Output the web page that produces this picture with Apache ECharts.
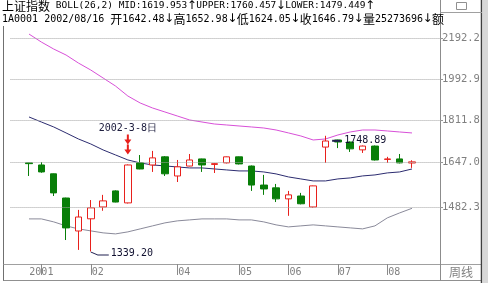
<!DOCTYPE html>
<html><head><meta charset="utf-8">
<script src="https://cdn.jsdelivr.net/npm/echarts@6/dist/echarts.min.js"></script>
<style>html,body{margin:0;padding:0;background:#fff}#c{width:488px;height:283px}</style>
</head><body><div id="c"></div>
<script>
// ---- data (weekly candles, 上证指数) ----
const weeks = ['2002-01-04','2002-01-11','2002-01-18','2002-01-25','2002-02-01','2002-02-08','2002-02-22','2002-03-01',
  '2002-03-08','2002-03-15','2002-03-22','2002-03-29','2002-04-05','2002-04-12','2002-04-19','2002-04-26',
  '2002-04-30','2002-05-10','2002-05-17','2002-05-24','2002-05-31','2002-06-07','2002-06-14','2002-06-21',
  '2002-06-28','2002-07-05','2002-07-12','2002-07-19','2002-07-26','2002-08-02','2002-08-09','2002-08-16'];
// [open, close, low, high]
const ohlc = [
  [1643,1640,1594,1644],[1635,1609,1606,1646],[1602,1533,1522,1603],[1515,1414,1375,1516],
  [1404,1450,1344,1474],[1444,1481,1339.2,1508],[1484,1505,1471,1526],[1540,1501,1500,1542],
  [1498,1635,1496,1637],[1643,1620,1619,1673],[1635,1662,1609,1689],[1666,1602,1594,1669],
  [1594,1628,1572,1654],[1631,1654,1630,1677],[1658,1635,1609,1659],[1637,1640,1605,1642],
  [1643,1666,1641,1667],[1666,1639,1637,1667],[1631,1561,1540,1633],[1561,1547,1526,1598],
  [1551,1512,1501,1565],[1512,1526,1454,1540],[1522,1495,1493,1533],[1484,1558,1481,1559],
  [1704,1728,1643,1748.89],[1732,1724,1700,1733],[1724,1697,1685,1726],[1693,1708,1681,1710],
  [1708,1654,1652,1710],[1656,1658,1643,1666],[1658,1643,1641,1677],[1642.48,1646.79,1624.05,1652.98]];
const upper = [2211.7,2171.3,2136.5,2107.2,2068.6,2035.5,1998.3,1961.8,1917.1,1886.4,1864.8,1847.7,1830.7,1813.9,1805.5,1797.2,
  1793.1,1789.0,1784.9,1780.7,1772.5,1760.5,1748.2,1732.1,1736.1,1752.2,1764.4,1772.5,1772.5,1768.5,1764.4,1760.457];
const mid = [1826.5,1805.5,1784.9,1760.5,1736.1,1716.2,1692.7,1673.3,1654.1,1642.7,1635.1,1631.4,1627.6,1623.9,1623.9,1620.1,
  1616.4,1612.7,1612.7,1608.9,1601.6,1590.5,1583.2,1575.9,1575.9,1583.2,1586.9,1594.2,1597.9,1605.3,1608.9,1619.953];
const lower = [1443.7,1443.7,1433.8,1420.6,1410.8,1404.3,1397.9,1394.6,1401.1,1410.8,1420.6,1430.5,1437.1,1440.4,1443.7,1443.7,
  1443.7,1440.4,1440.4,1433.8,1423.9,1417.3,1420.6,1423.9,1420.6,1417.3,1414.1,1410.8,1420.6,1447.1,1463.8,1479.449];
const yTicks = [2192.2, 1992.9, 1811.8, 1647.0, 1482.3];
const xTickWeeks = ['2002-01-11','2002-02-08','2002-04-05','2002-05-10','2002-06-07','2002-07-05','2002-08-02'];
const xTickLabels = ['2001','02','04','05','06','07','08'];
const markWeek = '2002-03-08';
const markText = '2002-3-8日';
const header1 = {name:'上证指数', ind:'BOLL(26,2)', mid:'MID:1619.953', up:'UPPER:1760.457', low:'LOWER:1479.449'};
const header2 = {code:'1A0001', date:'2002/08/16', open:'1642.48', high:'1652.98', lowv:'1624.05', close:'1646.79', vol:'25273696'};

// ---- build ----
const MONO = 'DejaVu Sans Mono';
const CJK = 'Noto Sans CJK SC';
const cats = ['p0', ...weeks, 'p1', 'p2'];
const tickSet = new Set(xTickWeeks.map(w => cats.indexOf(w)));
const pair = arr => arr.map((v, i) => [weeks[i], v]);
const candle = ohlc.map((d, i) => [weeks[i], ...d]);
let lowI = 0, highI = 0;
ohlc.forEach((d, i) => { if (d[2] < ohlc[lowI][2]) lowI = i; if (d[3] > ohlc[highI][3]) highI = i; });
const markI = weeks.indexOf(markWeek);

const RED = '#e8201c', GREEN = '#087e08';
const chart = echarts.init(document.getElementById('c'), null, {renderer: 'canvas'});
const lineSeries = (name, data, color) => ({
  name, type: 'line', data: pair(data), symbol: 'none', silent: true,
  lineStyle: {color, width: 1}, z: 3
});
const A = {width: 9, align: 'center', fontFamily: 'DejaVu Sans', fontSize: 12};
chart.setOption({
  animation: false,
  backgroundColor: '#fff',
  grid: {left: 10.47, right: 45.1, top: 27, bottom: 19},
  xAxis: {
    type: 'category', data: cats, boundaryGap: true,
    axisLine: {show: false},
    axisTick: {show: true, alignWithLabel: true, interval: i => tickSet.has(i), length: 11,
      lineStyle: {color: '#8a8a8a'}},
    axisLabel: {
      interval: i => tickSet.has(i), margin: 3, color: '#808080', fontFamily: MONO, fontSize: 10,
      formatter: v => {
        const k = xTickWeeks.indexOf(v);
        if (k < 0) return '';
        return k === 0 ? '{y|' + xTickLabels[k] + '}' : '{m|' + xTickLabels[k] + '}';
      },
      rich: {
        y: {color: '#808080', fontFamily: MONO, fontSize: 10},
        m: {color: '#808080', fontFamily: MONO, fontSize: 10, padding: [0, 0, 0, 14]}
      }
    },
    splitLine: {show: false}
  },
  yAxis: {
    type: 'log', logBase: 10, min: 1301, max: 2248, position: 'right', offset: -2.9,
    axisLine: {show: true, lineStyle: {color: '#8c8c8c'}},
    axisTick: {show: true, customValues: yTicks, length: 3, lineStyle: {color: '#8c8c8c'}},
    axisLabel: {customValues: yTicks, formatter: v => Number(v).toFixed(1), color: '#808080',
      fontFamily: MONO, fontSize: 10.5, margin: 2},
    splitLine: {show: false}, minorTick: {show: false}
  },
  series: [
    {
      type: 'candlestick', data: candle, encode: {x: 0, y: [1, 2, 3, 4]}, barWidth: 7, z: 4,
      itemStyle: {color: '#ffffff', color0: GREEN, borderColor: RED, borderColor0: GREEN, borderWidth: 1},
      markPoint: {
        silent: true, animation: false,
        data: [
          {coord: [weeks[markI], ohlc[markI][3]], value: ohlc[markI][3],
            symbol: 'path://M2.5,0 L4.5,0 L4.5,5 L7,5 L3.5,10 L0,5 L2.5,5 Z M2.5,10 L4.5,10 L4.5,15 L7,15 L3.5,20 L0,15 L2.5,15 Z',
            symbolSize: [7, 20], symbolOffset: [0, -20], itemStyle: {color: RED},
            label: {show: true, position: 'top', distance: 1, formatter: () => markText,
              color: '#202040', fontFamily: MONO, fontSize: 10}},
          {coord: [weeks[lowI], ohlc[lowI][2]], value: ohlc[lowI][2],
            symbol: 'path://M0,0 L7,3 L18,3 L18,4 L7,4 L0,1 Z', symbolSize: [18, 4], symbolOffset: [9, 2],
            itemStyle: {color: '#202050'},
            label: {show: true, position: 'right', distance: 2, formatter: p => p.value.toFixed(2),
              color: '#101030', fontFamily: MONO, fontSize: 10}},
          {coord: [weeks[highI], ohlc[highI][3]], value: ohlc[highI][3],
            symbol: 'path://M0,0 L8,0 L8,2 L0,2 Z', symbolSize: [8, 2], symbolOffset: [10.6, 5],
            itemStyle: {color: '#202050'},
            label: {show: true, position: 'right', distance: 4, formatter: p => p.value.toFixed(2),
              color: '#101030', fontFamily: MONO, fontSize: 10}}
        ]
      }
    },
    lineSeries('UPPER', upper, '#d850d8'),
    Object.assign(lineSeries('MID', mid, '#2c2c70'), {
      markLine: {silent: true, symbol: 'none', animation: false, label: {show: false},
        lineStyle: {type: 'dotted', color: '#a4a4a4', width: 1},
        data: yTicks.map(v => ({yAxis: v}))}
    }),
    lineSeries('LOWER', lower, '#8a8a9a')
  ],
  graphic: [
    {type: 'line', shape: {x1: 3.5, y1: 26, x2: 3.5, y2: 281}, style: {stroke: '#707070', lineWidth: 1}, silent: true},
    {type: 'line', shape: {x1: 3.5, y1: 264.5, x2: 482, y2: 264.5}, style: {stroke: '#a0a0a0', lineWidth: 1}, silent: true},
    {type: 'line', shape: {x1: 3.5, y1: 280.5, x2: 482, y2: 280.5}, style: {stroke: '#909090', lineWidth: 1}, silent: true},
    {type: 'line', shape: {x1: 440.5, y1: 0, x2: 440.5, y2: 281}, style: {stroke: '#8c8c8c', lineWidth: 1}, silent: true},
    {type: 'line', shape: {x1: 481.5, y1: 0, x2: 481.5, y2: 283}, style: {stroke: '#404040', lineWidth: 1.5}, silent: true},
    {type: 'line', shape: {x1: 440.5, y1: 12.5, x2: 482, y2: 12.5}, style: {stroke: '#a0a0a0', lineWidth: 1}, silent: true},
    {type: 'rect', shape: {x: 456.5, y: 2.5, width: 10, height: 7}, style: {fill: 'none', stroke: '#909090', lineWidth: 1}, silent: true},
    {type: 'rect', shape: {x: 483, y: 0, width: 5, height: 283}, style: {fill: '#d8d8d8'}, silent: true},
    {type: 'text', x: 2, y: 6, silent: true, style: {
      text: '{k|' + header1.name + '}{a| ' + header1.ind + ' ' + header1.mid + '}{ar|↑}{u|' + header1.up + '}{ur|↓}{l|' + header1.low + '}{lr|↑}',
      verticalAlign: 'middle',
      rich: {
        k: {fontFamily: CJK, fontSize: 12, color: '#000'},
        a: {fontFamily: MONO, fontSize: 9.5, color: '#101040'},
        ar: Object.assign({color: '#101040'}, A),
        u: {fontFamily: MONO, fontSize: 9.5, color: '#d040d0'},
        ur: Object.assign({color: '#d040d0'}, A),
        l: {fontFamily: MONO, fontSize: 9.5, color: '#8a8a8a'},
        lr: Object.assign({color: '#8a8a8a'}, A)
      }}},
    {type: 'text', x: 2, y: 19, silent: true, style: {
      text: '{a|' + header2.code + ' ' + header2.date + ' }{gk|开}{g|' + header2.open + '}{gr|↓}{rk|高}{r|' + header2.high + '}{rr|↓}' +
            '{gk|低}{g|' + header2.lowv + '}{gr|↓}{gk|收}{g|' + header2.close + '}{gr|↓}{bk|量}{a|' + header2.vol + '}{ar|↓}{bk|额}',
      verticalAlign: 'middle',
      rich: {
        a: {fontFamily: MONO, fontSize: 10, color: '#000'},
        ar: Object.assign({color: '#000'}, A),
        bk: {fontFamily: CJK, fontSize: 12, color: '#000'},
        gk: {fontFamily: CJK, fontSize: 12, color: GREEN},
        g: {fontFamily: MONO, fontSize: 10, color: GREEN},
        gr: Object.assign({color: GREEN}, A),
        rk: {fontFamily: CJK, fontSize: 12, color: RED},
        r: {fontFamily: MONO, fontSize: 10, color: RED},
        rr: Object.assign({color: RED}, A)
      }}},
    {type: 'text', x: 461, y: 272.5, silent: true, style: {text: '周线', fontFamily: CJK, fontSize: 12,
      fill: '#808080', align: 'center', verticalAlign: 'middle'}}
  ]
});
</script></body></html>
